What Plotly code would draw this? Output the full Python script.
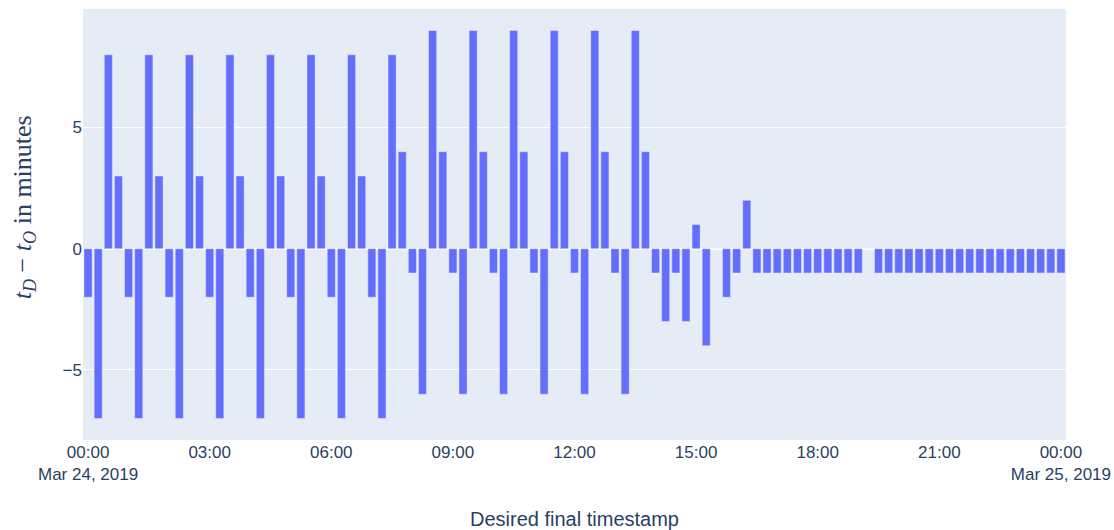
import pandas as pd
import plotly.graph_objects as go

# 15-minute timestamps from 2019-03-24 00:00 to 2019-03-25 00:00
timestamps = pd.date_range("2019-03-24 00:00", "2019-03-25 00:00", freq="15min")

hour_pattern_a = [-2, -7, 8, 3]   # 00:00 - 06:45
hour_pattern_b = [-1, -6, 9, 4]   # 08:00 - 13:45

delta_minutes = (
    hour_pattern_a * 7                      # 00:00 - 06:45
    + [-2, -7, 8, 4]                        # 07:00 - 07:45
    + hour_pattern_b * 6                    # 08:00 - 13:45
    + [-1, -3, -1, -3]                      # 14:00 - 14:45
    + [1, -4, 0, -2]                        # 15:00 - 15:45
    + [-1, 2, -1, -1]                       # 16:00 - 16:45
    + [-1] * 4                              # 17:00 - 17:45
    + [-1] * 4                              # 18:00 - 18:45
    + [-1, 0, -1, -1]                       # 19:00 - 19:45
    + [-1] * 16                             # 20:00 - 23:45
    + [-1]                                  # 00:00
)

x_title = "Desired final timestamp"
y_title = "<i>t</i><sub><i>D</i></sub> \u2212 <i>t</i><sub><i>O</i></sub> in minutes"

fig = go.Figure(go.Bar(x=timestamps, y=delta_minutes, marker_color="#636efa"))

fig.update_layout(
    template="plotly",
    width=1114,
    height=530,
    margin=dict(l=83, r=48, t=9, b=90),
    font=dict(family="Liberation Sans, Arial, sans-serif", size=17),
    showlegend=False,
    xaxis=dict(automargin=False,
               title=dict(text=x_title, font=dict(size=20), standoff=31)),
    yaxis=dict(automargin=False, dtick=5),
    annotations=[
        dict(
            text=y_title,
            textangle=-90,
            xref="paper", yref="paper",
            x=0, y=0.54,
            xanchor="center", yanchor="middle",
            xshift=-59,
            showarrow=False,
            font=dict(family="Liberation Serif, DejaVu Serif, serif", size=26, color="#2a3f5f"),
        )
    ],
)

fig.write_html(
    "out.html",
    config={"displayModeBar": False},
    post_script="document.body.style.margin = '0';",
)
